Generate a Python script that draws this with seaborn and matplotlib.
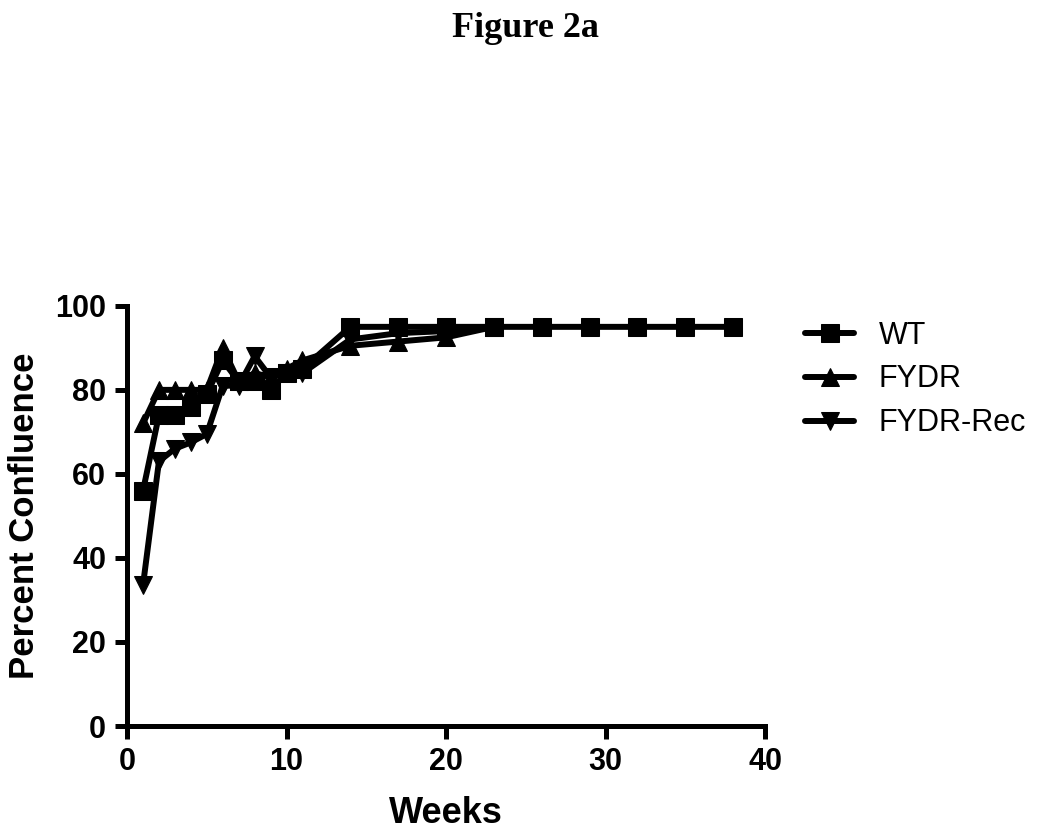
import matplotlib
matplotlib.use('Agg')
import matplotlib.pyplot as plt
import seaborn as sns
import pandas as pd

# Weeks and percent confluence per strain
wt_weeks = [1, 2, 3, 4, 5, 6, 7, 8, 9, 10, 11, 14, 17, 20, 23, 26, 29, 32, 35, 38]
wt_conf = [56, 74, 74, 76, 79, 87, 82, 82, 80, 84, 85, 95, 95, 95, 95, 95, 95, 95, 95, 95]

fydr_weeks = [1, 2, 3, 4, 5, 6, 7, 8, 9, 10, 11, 14, 17, 20, 23]
fydr_conf = [72, 80, 80, 80, 80, 90, 82, 84, 83, 85, 87, 90.5, 91.5, 92.5, 95]

rec_weeks = [1, 2, 3, 4, 5, 6, 7, 8, 9, 10, 11, 14, 17, 20, 23]
rec_conf = [33.5, 63, 66, 67.5, 69.5, 81, 81, 88, 83, 84, 84, 92, 93.5, 94, 95]

series = [('WT', wt_weeks, wt_conf, 's'),
          ('FYDR', fydr_weeks, fydr_conf, '^'),
          ('FYDR-Rec', rec_weeks, rec_conf, 'v')]

sns.set_style('ticks')
plt.rcParams['font.family'] = ['Liberation Sans', 'DejaVu Sans']
plt.rcParams['text.color'] = 'black'
plt.rcParams['axes.labelcolor'] = 'black'
plt.rcParams['xtick.color'] = 'black'
plt.rcParams['ytick.color'] = 'black'

fig = plt.figure(figsize=(10.5, 8.32), dpi=100)
ax = fig.add_axes([0.121, 0.1274, 0.6076, 0.505])

for name, wk, conf, mk in series:
    df = pd.DataFrame({'Weeks': wk, 'Percent Confluence': conf})
    sns.lineplot(data=df, x='Weeks', y='Percent Confluence', ax=ax, color='black',
                 marker=mk, markersize=13, markeredgecolor='black', linewidth=4.3,
                 label=name)

ax.set_xlim(0, 40)
ax.set_ylim(0, 100)
ax.set_xticks([0, 10, 20, 30, 40])
ax.set_yticks([0, 20, 40, 60, 80, 100])
for s in ['top', 'right']:
    ax.spines[s].set_visible(False)
for s in ['left', 'bottom']:
    ax.spines[s].set_linewidth(3.6)
    ax.spines[s].set_color('black')
ax.tick_params(axis='both', width=3.6, length=9, labelsize=22, color='black',
               labelcolor='black', pad=6)
for lbl in ax.get_xticklabels() + ax.get_yticklabels():
    lbl.set_fontweight('bold')

ax.set_xlabel('Weeks', fontsize=26, fontweight='bold', labelpad=14)
ax.set_ylabel('Percent Confluence', fontsize=25, fontweight='bold', labelpad=10)

leg = ax.legend(loc='upper left', bbox_to_anchor=(1.02, 1.03), frameon=False, fontsize=22,
                handlelength=1.6, handletextpad=0.8, labelspacing=0.45)
for t in leg.get_texts():
    t.set_color('black')

fig.text(0.5, 0.966, 'Figure 2a', ha='center', va='center', fontsize=26,
         fontweight='bold', family=['Liberation Serif', 'DejaVu Serif'])

fig.savefig('out.png', dpi=100)
